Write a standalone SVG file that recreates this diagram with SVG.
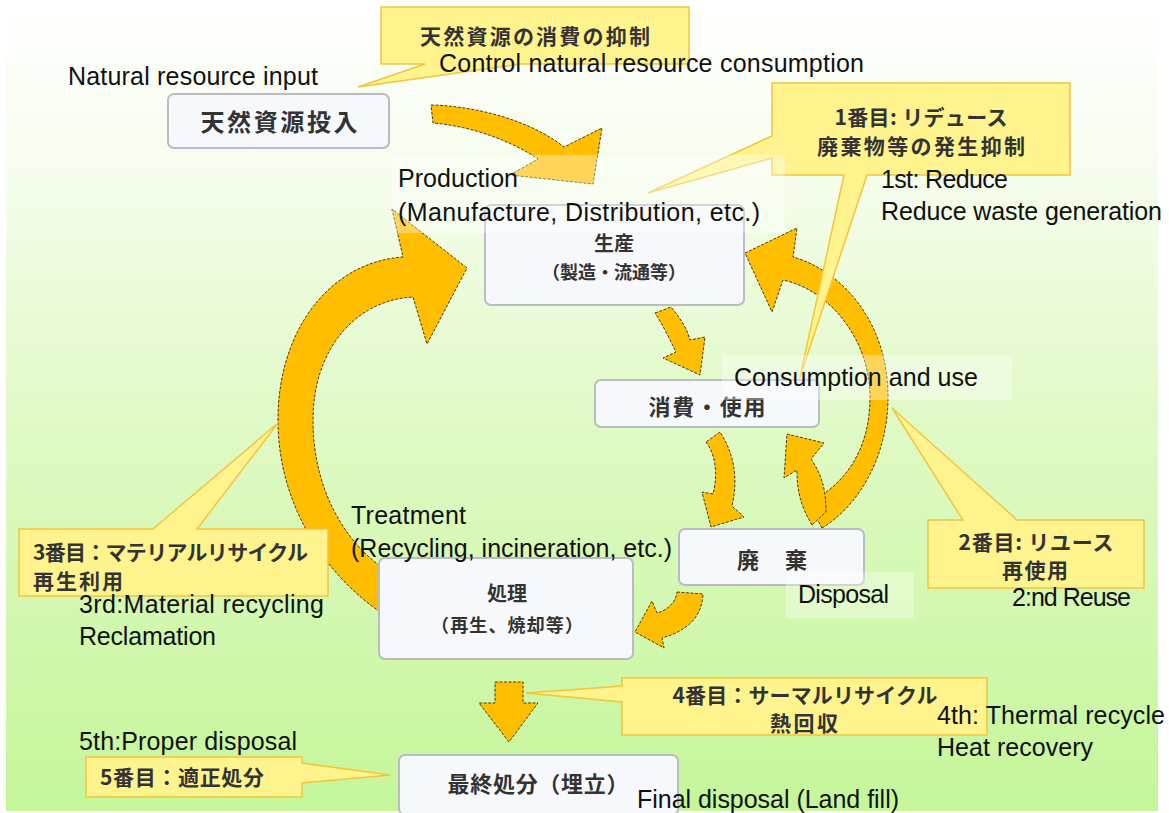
<svg xmlns="http://www.w3.org/2000/svg" width="1169" height="813" viewBox="0 0 1169 813">
<defs>
<linearGradient id="bg" x1="0" y1="0" x2="0" y2="1">
<stop offset="0" stop-color="#ffffff"/>
<stop offset="0.2" stop-color="#f6fdee"/>
<stop offset="0.55" stop-color="#def9c2"/>
<stop offset="1" stop-color="#c5f69a"/>
</linearGradient>
<style>
.arrow{fill:#ffbf00;stroke:#4a3c10;stroke-width:1;stroke-dasharray:3 1.5;stroke-linejoin:round}
.node{fill:#f6f8fb;stroke:#b9bcc0;stroke-width:2}
.call{fill:#fff38e;stroke:#f2c53d;stroke-width:1.5;stroke-linejoin:miter}
.jp{font-family:"Noto Sans CJK JP","Noto Sans CJK SC",sans-serif;font-weight:bold;fill:#333333}
.en{font-family:"Liberation Sans",Arial,sans-serif;font-size:25px;fill:#111111}
.veil{fill:#ffffff;fill-opacity:0.35}
</style>
</defs>
<rect x="6" y="0" width="1152" height="811" fill="url(#bg)"/>

<g id="connectors">
<path class="arrow" d="M431,105 C475,106 530,120 564,147 L602,128 L593,184 L510,175 L538,159 C510,140 470,126 433,123 Z"/>
<path class="arrow" d="M395,622 L380,612 C320,570 278,500 278,420 C278,330 330,262 403,257 L392,209 L467,268 L427,344 L413,297 C355,300 313,350 313,420 C313,490 345,540 380,566 L395,575 Z"/>
<path class="arrow" d="M822,528 C860,505 888,455 888,397 C888,320 840,270 793,257 L797,228 L745,253 L772,312 L783,280 C830,290 870,340 870,397 C870,450 845,485 808,503 Z"/>
<path class="arrow" d="M812,525 C800,505 797,490 797,470 L784,478 L787,434 L824,443 L811,459 C822,475 826,490 826,512 Z"/>
<path class="arrow" d="M655,313 L671,307 C680,318 687,328 690,340 L705,337 L700,375 L663,358 L676,352 C670,340 663,325 655,313 Z"/>
<path class="arrow" d="M706,442 C716,455 718,475 713,494 L702,492 L711,527 L744,517 L732,506 C738,480 735,455 720,432 Z"/>
<path class="arrow" d="M677,592 L703,594 C702,615 690,630 662,638 L664,648 L635,632 L652,601 L657,613 C668,610 676,602 677,592 Z"/>
<path class="arrow" d="M495,682 H523 V703 H538 L509,742 L479,703 H495 Z"/>
</g>

<g id="node-input">
<rect class="node" x="168" y="94" width="221" height="54" rx="6"/>
<text class="jp" x="279" y="131" font-size="24" text-anchor="middle" textLength="157" lengthAdjust="spacing">天然資源投入</text>
</g>
<g id="node-production">
<rect class="node" x="485" y="205" width="259" height="100" rx="6"/>
<text class="jp" x="614" y="251" font-size="20" text-anchor="middle">生産</text>
<text class="jp" x="614" y="279" font-size="18" text-anchor="middle" textLength="144" lengthAdjust="spacing">（製造・流通等）</text>
</g>
<g id="node-consumption">
<rect class="node" x="595" y="380" width="224" height="47" rx="6"/>
<text class="jp" x="707" y="415" font-size="22" text-anchor="middle" textLength="117" lengthAdjust="spacing">消費・使用</text>
</g>
<g id="node-disposal">
<rect class="node" x="679" y="529" width="185" height="56" rx="6"/>
<text class="jp" x="772" y="568" font-size="22" text-anchor="middle" textLength="70" lengthAdjust="spacing">廃　棄</text>
</g>
<g id="node-treatment">
<rect class="node" x="379" y="558" width="254" height="101" rx="6"/>
<text class="jp" x="507" y="601" font-size="20" text-anchor="middle">処理</text>
<text class="jp" x="507" y="632" font-size="18" text-anchor="middle" textLength="152" lengthAdjust="spacing">（再生、焼却等）</text>
</g>
<g id="node-final">
<rect class="node" x="399" y="755" width="279" height="60" rx="6"/>
<text class="jp" x="538" y="792" font-size="22" text-anchor="middle" textLength="181" lengthAdjust="spacing">最終処分（埋立）</text>
</g>

<g id="callout-control">
<path class="call" d="M381,7 H689 V64 H520 L358,87 L425,64 H381 Z"/>
<text class="jp" x="535" y="44" font-size="21" text-anchor="middle" textLength="230" lengthAdjust="spacing">天然資源の消費の抑制</text>
</g>
<g id="callout-reduce">
<path class="call" d="M772,83 H1070 V175 H867 L800,377 L844,175 H772 V158 L648,193 L772,136 Z"/>
<text class="jp" x="921" y="125" font-size="21" text-anchor="middle" textLength="173" lengthAdjust="spacing">1番目: リデュース</text>
<text class="jp" x="921" y="154" font-size="21" text-anchor="middle" textLength="208" lengthAdjust="spacing">廃棄物等の発生抑制</text>
</g>
<g id="callout-reuse">
<path class="call" d="M928,520 H963 L892,408 L1017,520 H1144 V588 H928 Z"/>
<text class="jp" x="1036" y="550" font-size="21" text-anchor="middle" textLength="155" lengthAdjust="spacing">2番目: リユース</text>
<text class="jp" x="1035" y="578" font-size="21" text-anchor="middle" textLength="66" lengthAdjust="spacing">再使用</text>
</g>
<g id="callout-material">
<path class="call" d="M19,529 H153 L278,423 L197,529 H328 V596 H19 Z"/>
<text class="jp" x="33" y="560" font-size="21" textLength="275" lengthAdjust="spacing">3番目：マテリアルリサイクル</text>
<text class="jp" x="33" y="589" font-size="21" textLength="90" lengthAdjust="spacing">再生利用</text>
</g>
<g id="callout-thermal">
<path class="call" d="M622,678 H987 V735 H622 V702 L526,693 L622,686 Z"/>
<text class="jp" x="805" y="703" font-size="21" text-anchor="middle" textLength="265" lengthAdjust="spacing">4番目：サーマルリサイクル</text>
<text class="jp" x="804" y="731" font-size="21" text-anchor="middle" textLength="68" lengthAdjust="spacing">熱回収</text>
</g>
<g id="callout-proper">
<path class="call" d="M86,757 H302 V763 L390,775 L302,783 V797 H86 Z"/>
<text class="jp" x="100" y="785" font-size="21" textLength="164" lengthAdjust="spacing">5番目：適正処分</text>
</g>

<g id="labels">
<rect class="veil" x="392" y="155" width="393" height="78"/>
<rect class="veil" x="722" y="355" width="290" height="45"/>
<rect class="veil" x="786" y="572" width="128" height="46"/>
<text class="en" x="68" y="85" textLength="250" lengthAdjust="spacing">Natural resource input</text>
<text class="en" x="439" y="72" textLength="425" lengthAdjust="spacing">Control natural resource consumption</text>
<text class="en" x="398" y="187" textLength="120" lengthAdjust="spacing">Production</text>
<text class="en" x="398" y="221" textLength="362" lengthAdjust="spacing">(Manufacture, Distribution, etc.)</text>
<text class="en" x="881" y="188" textLength="127" lengthAdjust="spacing">1st: Reduce</text>
<text class="en" x="881" y="220" textLength="281" lengthAdjust="spacing">Reduce waste generation</text>
<text class="en" x="734" y="386" textLength="244" lengthAdjust="spacing">Consumption and use</text>
<text class="en" x="351" y="524" textLength="115" lengthAdjust="spacing">Treatment</text>
<text class="en" x="351" y="557" textLength="321" lengthAdjust="spacing">(Recycling, incineration, etc.)</text>
<text class="en" x="79" y="613" textLength="245" lengthAdjust="spacing">3rd:Material recycling</text>
<text class="en" x="79" y="645" textLength="137" lengthAdjust="spacing">Reclamation</text>
<text class="en" x="798" y="603" textLength="91" lengthAdjust="spacing">Disposal</text>
<text class="en" x="1012" y="606" textLength="119" lengthAdjust="spacing">2:nd Reuse</text>
<text class="en" x="937" y="724" textLength="228" lengthAdjust="spacing">4th: Thermal recycle</text>
<text class="en" x="937" y="756" textLength="156" lengthAdjust="spacing">Heat recovery</text>
<text class="en" x="79" y="750" textLength="218" lengthAdjust="spacing">5th:Proper disposal</text>
<text class="en" x="637" y="808" textLength="262" lengthAdjust="spacing">Final disposal (Land fill)</text>
</g>
</svg>
